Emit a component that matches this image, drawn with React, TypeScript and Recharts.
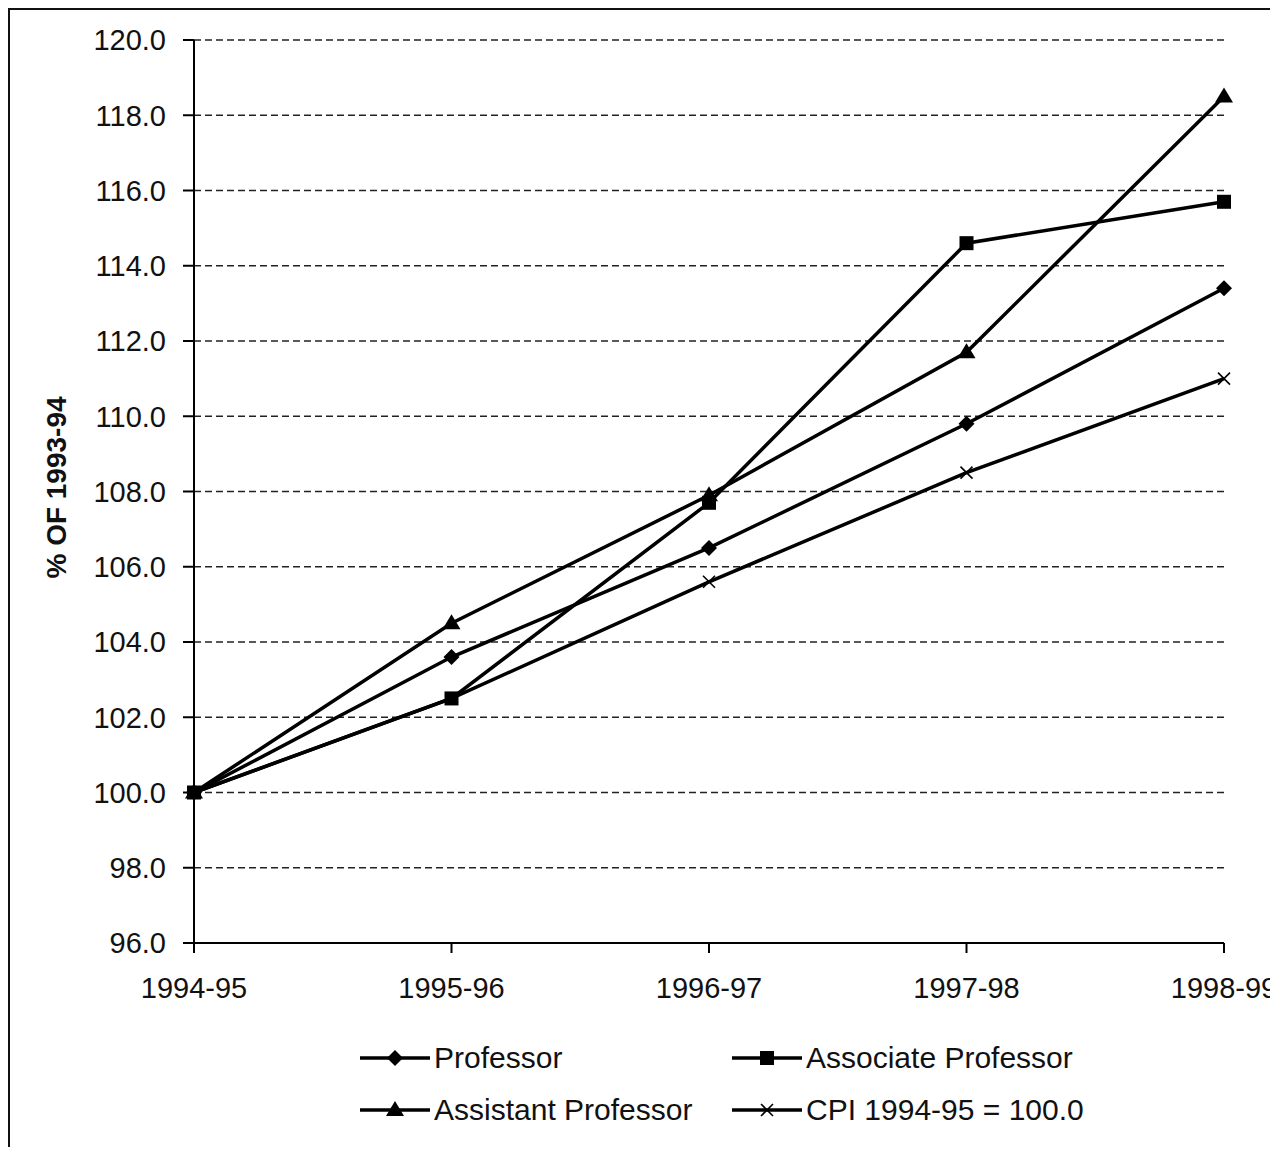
import React from "react";
import {
  LineChart,
  Line,
  XAxis,
  YAxis,
  CartesianGrid,
  Legend,
  Label,
} from "recharts";

const years = ["1994-95", "1995-96", "1996-97", "1997-98", "1998-99"];
const professor = [100.0, 103.6, 106.5, 109.8, 113.4];
const associate = [100.0, 102.5, 107.7, 114.6, 115.7];
const assistant = [100.0, 104.5, 107.9, 111.7, 118.5];
const cpi = [100.0, 102.5, 105.6, 108.5, 111.0];
const yTicks = [96, 98, 100, 102, 104, 106, 108, 110, 112, 114, 116, 118, 120];

const FONT = "'Liberation Sans', Arial, sans-serif";
const INK = "#000";

type Shape = "diamond" | "square" | "triangle" | "cross";

const series: { key: string; name: string; shape: Shape; values: number[] }[] = [
  { key: "professor", name: "Professor", shape: "diamond", values: professor },
  { key: "associate", name: "Associate Professor", shape: "square", values: associate },
  { key: "assistant", name: "Assistant Professor", shape: "triangle", values: assistant },
  { key: "cpi", name: "CPI 1994-95 = 100.0", shape: "cross", values: cpi },
];

const data = years.map((year, i) => {
  const row: Record<string, string | number> = { year };
  series.forEach((s) => (row[s.key] = s.values[i]));
  return row;
});

function Marker({ shape, cx, cy }: { shape: Shape; cx: number; cy: number }) {
  if (shape === "diamond")
    return (
      <polygon
        points={`${cx},${cy - 8} ${cx + 8},${cy} ${cx},${cy + 8} ${cx - 8},${cy}`}
        fill={INK}
      />
    );
  if (shape === "square")
    return <rect x={cx - 7} y={cy - 7} width={14} height={14} fill={INK} />;
  if (shape === "triangle")
    return (
      <polygon
        points={`${cx},${cy - 9} ${cx + 9},${cy + 6} ${cx - 9},${cy + 6}`}
        fill={INK}
      />
    );
  return (
    <g stroke={INK} strokeWidth={1.6}>
      <line x1={cx - 6} y1={cy - 6} x2={cx + 6} y2={cy + 6} />
      <line x1={cx - 6} y1={cy + 6} x2={cx + 6} y2={cy - 6} />
    </g>
  );
}

// legend placement: two columns, two rows
const legendSlots: Record<string, { left: number; top: number }> = {
  professor: { left: 348, top: 0 },
  associate: { left: 720, top: 0 },
  assistant: { left: 348, top: 52 },
  cpi: { left: 720, top: 52 },
};

function ChartLegend() {
  return (
    <div style={{ position: "relative", width: 1260, height: 104, fontFamily: FONT }}>
      {series.map((s) => (
        <div
          key={s.key}
          style={{
            position: "absolute",
            left: legendSlots[s.key].left,
            top: legendSlots[s.key].top,
            height: 52,
            display: "flex",
            alignItems: "center",
            whiteSpace: "nowrap",
          }}
        >
          <svg width={74} height={52}>
            <line x1={2} y1={26} x2={72} y2={26} stroke={INK} strokeWidth={3.5} />
            <Marker shape={s.shape} cx={37} cy={26} />
          </svg>
          <span style={{ fontSize: 30, color: "#111", marginLeft: 2 }}>{s.name}</span>
        </div>
      ))}
    </div>
  );
}

export default function App() {
  return (
    <div
      style={{
        width: 1262,
        height: 1147,
        marginBottom: -8,
        borderLeft: "2px solid #111",
        borderTop: "2px solid #111",
        boxSizing: "border-box",
        overflow: "hidden",
        background: "#fff",
      }}
    >
      <LineChart
        width={1260}
        height={1137}
        data={data}
        margin={{ top: 30, right: 46, left: 0, bottom: 11 }}
      >
        <CartesianGrid
          vertical={false}
          stroke="#222"
          strokeWidth={1.6}
          strokeDasharray="7 4"
        />
        <XAxis
          dataKey="year"
          height={89}
          interval={0}
          tickSize={10}
          tickMargin={24}
          axisLine={{ stroke: INK, strokeWidth: 2 }}
          tickLine={{ stroke: INK, strokeWidth: 2 }}
          tick={{ fontSize: 29, fill: "#111", fontFamily: FONT }}
        />
        <YAxis
          width={184}
          domain={[96, 120]}
          ticks={yTicks}
          interval={0}
          tickSize={11}
          tickMargin={17}
          axisLine={{ stroke: INK, strokeWidth: 2 }}
          tickLine={{ stroke: INK, strokeWidth: 2 }}
          tick={{ fontSize: 29, fill: "#111", fontFamily: FONT }}
          tickFormatter={(v) => Number(v).toFixed(1)}
        >
          <Label
            content={({ viewBox }: any) => {
              const cy = viewBox.y + viewBox.height / 2 - 4;
              return (
                <text
                  x={46}
                  y={cy}
                  transform={`rotate(-90, 46, ${cy})`}
                  textAnchor="middle"
                  dominantBaseline="central"
                  fontFamily={FONT}
                  fontWeight="bold"
                  fontSize={28}
                  fill="#111"
                >
                  % OF 1993-94
                </text>
              );
            }}
          />
        </YAxis>
        <Legend
          verticalAlign="bottom"
          height={104}
          wrapperStyle={{ left: 0, width: 1260 }}
          content={() => <ChartLegend />}
        />
        {series.map((s) => (
          <Line
            key={s.key}
            dataKey={s.key}
            name={s.name}
            type="linear"
            stroke={INK}
            strokeWidth={3.5}
            isAnimationActive={false}
            dot={(p: any) => (
              <Marker key={`${s.key}-${p.index}`} shape={s.shape} cx={p.cx} cy={p.cy} />
            )}
            activeDot={false}
          />
        ))}
      </LineChart>
    </div>
  );
}
